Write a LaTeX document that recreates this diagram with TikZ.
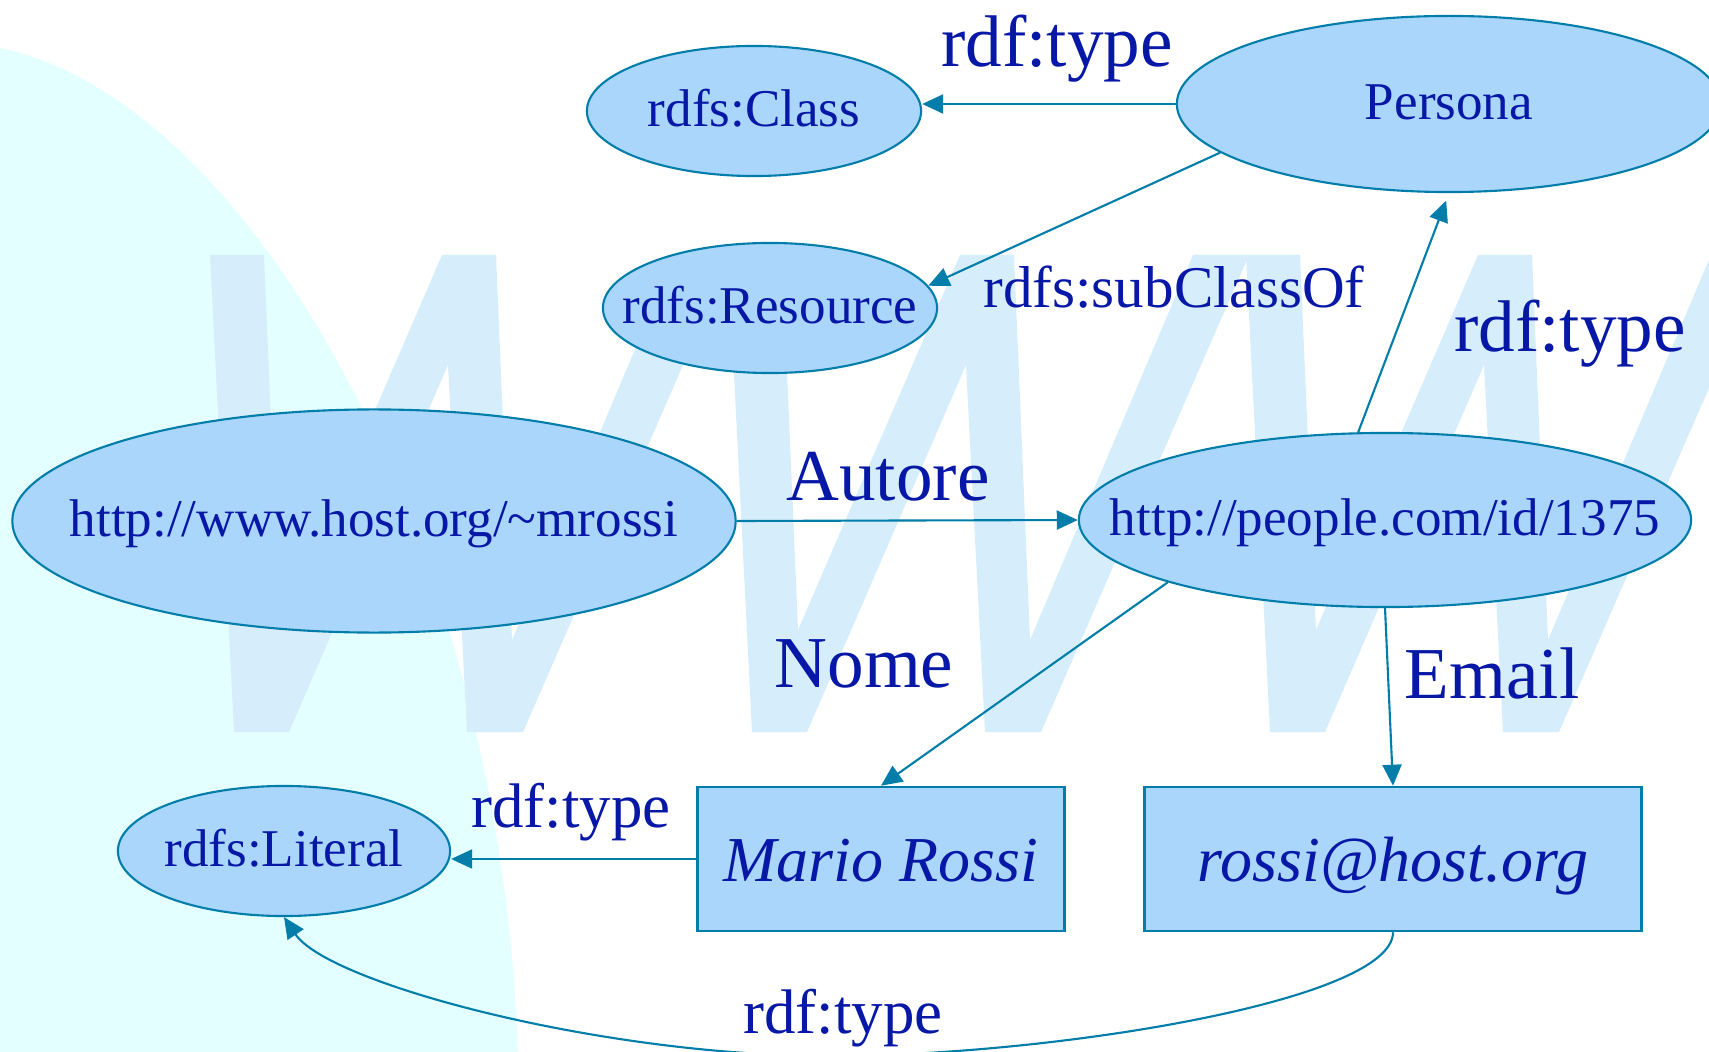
\documentclass[tikz,border=0pt]{standalone}
\usepackage{fontspec}
\setmainfont{Liberation Serif}
\usepackage{tikz}
\usetikzlibrary{arrows.meta, shapes.geometric}
\newcommand{\ctrtext}[1]{\makebox[0pt]{#1}}

\begin{document}
\begin{tikzpicture}[
  x=0.01cm, y=-0.01cm,
  link/.style={-{Triangle[length=0.21cm, width=0.19cm]}, rdfteal, line width=0.6pt},
  res/.style={ellipse, draw=rdfteal, fill=rdffill, line width=0.6pt, inner sep=0pt, text=rdfink, font=\fontsize{15.1pt}{18pt}\selectfont, text height=12pt, text depth=3.2pt},
  lit/.style={rectangle, draw=rdfteal, fill=rdffill, line width=0.7pt, inner sep=0pt, text=rdfink, font=\fontsize{18.2pt}{22pt}\selectfont\itshape, text height=15pt, text depth=2pt},
  biglbl/.style={text=rdfink, inner sep=0pt, anchor=base, font=\fontsize{20.8pt}{25pt}\selectfont},
  midlbl/.style={biglbl, font=\fontsize{17.9pt}{21pt}\selectfont},
  sublbl/.style={biglbl, font=\fontsize{16.8pt}{20pt}\selectfont},
]
\definecolor{rdfteal}{RGB}{0,125,168}
\definecolor{rdffill}{RGB}{170,214,252}
\definecolor{rdfink}{RGB}{8,24,166}
\definecolor{wmblue}{RGB}{214,238,252}
\definecolor{bgcyan}{RGB}{228,255,255}
% page frame, in pixel units, y grows downwards
\useasboundingbox (0,0) rectangle (1709,1052);
\clip (0,0) rectangle (1709,1052);
\fill[white] (0,0) rectangle (1709,1052);
% cyan backdrop on the left
\fill[bgcyan] (0,48) .. controls (250,100) and (500,540) .. (518,1052) -- (0,1052) -- cycle;
% the WWW watermark
\foreach \dx in {0,518,1036}
  \fill[wmblue, shift={(\dx,0)}] (210,255) -- (264,255) -- (280,630) -- (442,255) -- (496,255) -- (512,640)
    -- (675,255) -- (731,255) -- (523,732) -- (467,732) -- (448,365) -- (289,732) -- (234,732) -- cycle;
% resources and literals
\node[res, minimum width=3.34cm, minimum height=1.30cm] (class) at (754,111) {\ctrtext{rdfs:Class}};
\node[res, minimum width=3.34cm, minimum height=1.30cm] (resource) at (770,308) {\ctrtext{rdfs:Resource}};
\node[res, minimum width=5.44cm, minimum height=1.76cm] (persona) at (1449,104) {\ctrtext{Persona}};
\node[res, minimum width=7.23cm, minimum height=2.23cm] (mrossi) at (374,521) {\ctrtext{http://www.host.org/\textasciitilde mrossi}};
\node[res, minimum width=6.12cm, minimum height=1.74cm] (people) at (1385,520) {\ctrtext{http://people.com/id/1375}};
\node[res, minimum width=3.32cm, minimum height=1.30cm] (literal) at (284,851) {\ctrtext{rdfs:Literal}};
\node[lit, minimum width=3.67cm, minimum height=1.44cm] (mario) at (881,859) {Mario Rossi};
\node[lit, minimum width=4.97cm, minimum height=1.44cm] (email) at (1393,859) {rossi@host.org};
% statements
\coordinate (typelow) at (830,1056);
\draw[link] (persona.west) -- (persona.west -| class.east);
\draw[link] (persona.192) -- (resource.8);
\draw[link, shorten >=0.08cm] (people.107) -- (persona.south);
\draw[link] (mrossi.east) -- (people.west);
\draw[link] (people.196) -- (mario.north);
\draw[link] (people.south) -- (email.north);
\draw[link] (mario.west) -- (mario.west -| literal.east);
\draw[link] (email.south) .. controls +(0,69) and +(220,0) .. (typelow) .. controls +(-230,0) and +(44,66) .. (literal.south);
% property names
\node[biglbl] (typeclass) at (1057,67) {rdf:type};
\node[sublbl] (subclass) at (1174,308) {rdfs:subClassOf};
\node[biglbl] (typepersona) at (1570,352) {rdf:type};
\node[biglbl] (autore) at (888,501) {Autore};
\node[biglbl] (nome) at (864,687) {Nome};
\node[biglbl] (emaillbl) at (1492,698) {Email};
\node[midlbl] (typelit) at (571,827) {rdf:type};
\node[midlbl] (typemail) at (843,1033) {rdf:type};
\end{tikzpicture}
\end{document}
